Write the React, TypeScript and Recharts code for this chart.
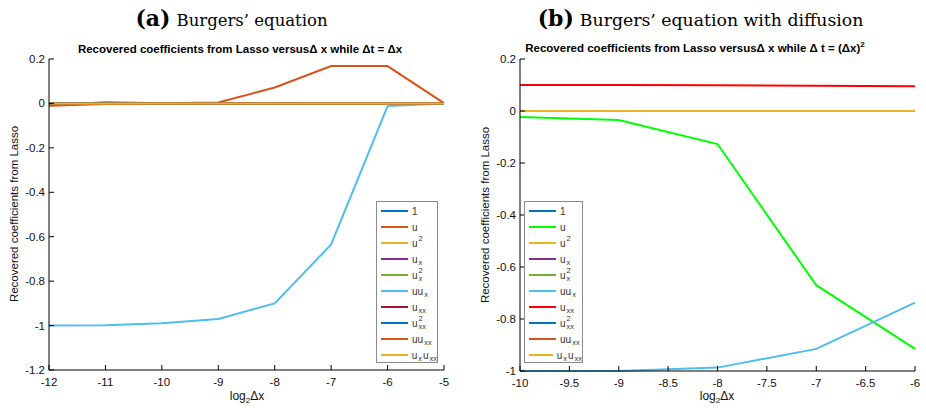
import React from 'react'
import { LineChart, Line, XAxis, YAxis, Legend } from 'recharts'

// x positions (log2 dx)
const X_A = [-12, -11, -10, -9, -8, -7, -6, -5]
const X_B = [-10, -9, -8, -7, -6]

// panel (a): Burgers' equation
const A_ONE = [0, 0, 0, 0, 0, 0, 0, 0]
const A_U = [-0.008, 0.005, 0.001, 0.004, 0.072, 0.168, 0.168, 0.001]
const A_U2 = [0, 0, 0, 0, 0, 0, 0, 0]
const A_UX = [0, 0, 0, 0, 0, 0, 0, 0]
const A_UX2 = [0, 0, 0, 0, 0, 0, 0, 0]
const A_UUX = [-1, -0.998, -0.99, -0.97, -0.9, -0.635, -0.012, 0]
const A_UXX = [0, 0, 0, 0, 0, 0, 0, 0]
const A_UXX2 = [0, 0, 0, 0, 0, 0, 0, 0]
const A_UUXX = [-0.01, -0.003, 0, 0, 0, 0, 0, 0]
const A_UXUXX = [0, 0, 0, 0, 0, 0, 0, 0]

// panel (b): Burgers' equation with diffusion
const B_ONE = [0, 0, 0, 0, 0]
const B_U = [-0.023, -0.035, -0.127, -0.67, -0.915]
const B_U2 = [0, 0, 0, 0, 0]
const B_UX = [0, 0, 0, 0, 0]
const B_UX2 = [0, 0, 0, 0, 0]
const B_UUX = [-1, -1, -0.987, -0.915, -0.737]
const B_UXX = [0.1, 0.1, 0.099, 0.097, 0.095]
const B_UXX2 = [0, 0, 0, 0, 0]
const B_UUXX = [0, 0, 0, 0, 0]
const B_UXUXX = [0, 0, 0, 0, 0]

const X_TICKS_A = [-12, -11, -10, -9, -8, -7, -6, -5]
const Y_TICKS_A = [-1.2, -1, -0.8, -0.6, -0.4, -0.2, 0, 0.2]
const X_TICKS_B = [-10, -9.5, -9, -8.5, -8, -7.5, -7, -6.5, -6]
const Y_TICKS_B = [-1, -0.8, -0.6, -0.4, -0.2, 0, 0.2]

const KEYS = ['one', 'u', 'u2', 'ux', 'ux2', 'uux', 'uxx', 'uxx2', 'uuxx', 'uxuxx']

// legend labels: [base, sub, sup]
const LABELS: [string, string, string][] = [
  ['1', '', ''],
  ['u', '', ''],
  ['u', '', '2'],
  ['u', 'x', ''],
  ['u', 'x', '2'],
  ['uu', 'x', ''],
  ['u', 'xx', ''],
  ['u', 'xx', '2'],
  ['uu', 'xx', ''],
  ['u', 'x', ''],
]

const COLORS_A = ['#0072BD', '#D95319', '#EDB120', '#7E2F8E', '#77AC30', '#4DBEEE', '#A2142F', '#0072BD', '#D95319', '#EDB120']
const COLORS_B = ['#0072BD', '#00FF00', '#EDB120', '#7E2F8E', '#77AC30', '#4DBEEE', '#FF0000', '#0072BD', '#D95319', '#EDB120']

const FONT = '"Liberation Sans", Arial, Helvetica, sans-serif'

function buildRows(xs: number[], series: number[][]) {
  return xs.map((x, i) => {
    const row: Record<string, number> = { x }
    KEYS.forEach((k, j) => (row[k] = series[j][i]))
    return row
  })
}

const dataA = buildRows(X_A, [A_ONE, A_U, A_U2, A_UX, A_UX2, A_UUX, A_UXX, A_UXX2, A_UUXX, A_UXUXX])
const dataB = buildRows(X_B, [B_ONE, B_U, B_U2, B_UX, B_UX2, B_UUX, B_UXX, B_UXX2, B_UUXX, B_UXUXX])

function BottomTick(props: any) {
  const { x, y, payload } = props
  return (
    <g>
      <line x1={x} y1={y} x2={x} y2={y - 5} stroke="#000" />
      <text x={x} y={y + 16} textAnchor="middle" fontSize={11.5} fill="#111" fontFamily={FONT}>
        {payload.value}
      </text>
    </g>
  )
}

function TopTick(props: any) {
  const { x, y } = props
  return <line x1={x} y1={y} x2={x} y2={y + 5} stroke="#000" />
}

function LeftTick(props: any) {
  const { x, y, payload } = props
  return (
    <g>
      <line x1={x} y1={y} x2={x + 5} y2={y} stroke="#000" />
      <text x={x - 4} y={y + 4} textAnchor="end" fontSize={11.5} fill="#111" fontFamily={FONT}>
        {payload.value}
      </text>
    </g>
  )
}

function RightTick(props: any) {
  const { x, y } = props
  return <line x1={x} y1={y} x2={x - 5} y2={y} stroke="#000" />
}

function Label({ base, sub, sup, last }: { base: string; sub: string; sup: string; last?: boolean }) {
  return (
    <span style={{ display: 'inline-flex', alignItems: 'center' }}>
      <span>{base}</span>
      {(sub || sup) && (
        <span style={{ display: 'inline-flex', flexDirection: 'column', fontSize: 7.5, lineHeight: '8px', marginLeft: 1 }}>
          <span style={{ height: 8 }}>{sup}</span>
          <span style={{ height: 8 }}>{sub}</span>
        </span>
      )}
      {last && (
        <>
          <span style={{ marginLeft: 1 }}>u</span>
          <span style={{ display: 'inline-flex', flexDirection: 'column', fontSize: 7.5, lineHeight: '8px', marginLeft: 1 }}>
            <span style={{ height: 8 }}></span>
            <span style={{ height: 8 }}>xx</span>
          </span>
        </>
      )}
    </span>
  )
}

function LegendBox({ colors, width }: { colors: string[]; width: number }) {
  return (
    <div
      style={{
        width,
        height: 162,
        boxSizing: 'border-box',
        border: '1px solid #8a8a8a',
        background: '#fff',
        fontFamily: FONT,
        fontSize: 10,
        color: '#333',
        paddingTop: 1,
      }}
    >
      {LABELS.map((l, i) => (
        <div key={i} style={{ display: 'flex', alignItems: 'center', height: 16 }}>
          <div style={{ width: 27, height: 2, background: colors[i], marginLeft: 4, marginRight: 4 }} />
          <Label base={l[0]} sub={l[1]} sup={l[2]} last={i === 9} />
        </div>
      ))}
    </div>
  )
}

function Panel({
  data,
  colors,
  xDomain,
  xTicks,
  yDomain,
  yTicks,
  margin,
  legendLeft,
  legendWidth,
}: {
  data: Record<string, number>[]
  colors: string[]
  xDomain: [number, number]
  xTicks: number[]
  yDomain: [number, number]
  yTicks: number[]
  margin: { top: number; right: number; bottom: number; left: number }
  legendLeft: number
  legendWidth: number
}) {
  return (
    <LineChart width={463} height={408} data={data} margin={margin}>
      <XAxis
        dataKey="x"
        type="number"
        domain={xDomain}
        ticks={xTicks}
        interval={0}
        height={20}
        tickSize={0}
        tickMargin={0}
        tickLine={false}
        axisLine={{ stroke: '#000' }}
        tick={BottomTick}
      />
      <XAxis
        xAxisId="top"
        orientation="top"
        type="number"
        domain={xDomain}
        ticks={xTicks}
        interval={0}
        height={0}
        tickSize={0}
        tickMargin={0}
        tickLine={false}
        axisLine={{ stroke: '#000' }}
        tick={TopTick}
      />
      <YAxis
        type="number"
        domain={yDomain}
        ticks={yTicks}
        interval={0}
        width={40}
        tickSize={0}
        tickMargin={0}
        tickLine={false}
        axisLine={{ stroke: '#000' }}
        tick={LeftTick}
      />
      <YAxis
        yAxisId="right"
        orientation="right"
        type="number"
        domain={yDomain}
        ticks={yTicks}
        interval={0}
        width={0}
        tickSize={0}
        tickMargin={0}
        tickLine={false}
        axisLine={{ stroke: '#000' }}
        tick={RightTick}
      />
      {KEYS.map((k, i) => (
        <Line
          key={k}
          dataKey={k}
          type="linear"
          stroke={colors[i]}
          strokeWidth={2}
          dot={false}
          isAnimationActive={false}
        />
      ))}
      <Legend
        layout="vertical"
        align="center"
        verticalAlign="middle"
        wrapperStyle={{ left: legendLeft, top: 201, width: legendWidth, height: 162 }}
        content={() => <LegendBox colors={colors} width={legendWidth} />}
      />
    </LineChart>
  )
}

const abs = (left: number, top: number): React.CSSProperties => ({ position: 'absolute', left, top })

export default function App() {
  return (
    <div style={{ position: 'absolute', left: 0, top: 0, width: 926, height: 408, background: '#fff', overflow: 'hidden' }}>
      <div style={abs(0, 0)}>
        <Panel
          data={dataA}
          colors={COLORS_A}
          xDomain={[-12, -5]}
          xTicks={X_TICKS_A}
          yDomain={[-1.2, 0.2]}
          yTicks={Y_TICKS_A}
          margin={{ top: 59, right: 19, bottom: 18, left: 9 }}
          legendLeft={376}
          legendWidth={62}
        />
      </div>
      <div style={abs(463, 0)}>
        <Panel
          data={dataB}
          colors={COLORS_B}
          xDomain={[-10, -6]}
          xTicks={X_TICKS_B}
          yDomain={[-1, 0.2]}
          yTicks={Y_TICKS_B}
          margin={{ top: 59, right: 11, bottom: 17, left: 17 }}
          legendLeft={61}
          legendWidth={59}
        />
      </div>

      {/* panel headings */}
      <div style={{ ...abs(0, 4), width: 463, textAlign: 'center', whiteSpace: 'nowrap', lineHeight: '28px' }}>
        <span style={{ fontFamily: '"DejaVu Serif", serif', fontWeight: 'bold', fontSize: 22 }}>(a)</span>
        <span style={{ fontFamily: '"DejaVu Serif", serif', fontSize: 16.5, marginLeft: 6 }}>Burgers’ equation</span>
      </div>
      <div style={{ ...abs(463, 4), width: 475, textAlign: 'center', whiteSpace: 'nowrap', lineHeight: '28px' }}>
        <span style={{ fontFamily: '"DejaVu Serif", serif', fontWeight: 'bold', fontSize: 22 }}>(b)</span>
        <span style={{ fontFamily: '"DejaVu Serif", serif', fontSize: 17.3, marginLeft: 6 }}>Burgers’ equation with diffusion</span>
      </div>

      {/* axes titles */}
      <div style={{ ...abs(0, 43), width: 480, textAlign: 'center', fontFamily: FONT, fontWeight: 'bold', fontSize: 11.5, whiteSpace: 'nowrap' }}>
        Recovered coefficients from Lasso versusΔ x while Δt = Δx
      </div>
      <div style={{ ...abs(463, 40), width: 464, textAlign: 'center', fontFamily: FONT, fontWeight: 'bold', fontSize: 11.5, whiteSpace: 'nowrap' }}>
        Recovered coefficients from Lasso versusΔ x while Δ t = (Δx)<sup style={{ fontSize: 8 }}>2</sup>
      </div>

      {/* x labels */}
      {[247, 717].map((cx, i) => (
        <div key={i} style={{ ...abs(cx - 40, 389), width: 80, textAlign: 'center', fontFamily: FONT, fontSize: 12, color: '#111', lineHeight: '14px' }}>
          log<sub style={{ fontSize: 8 }}>2</sub>Δx
        </div>
      ))}

      {/* y labels */}
      {[
        [16, 214],
        [487, 215],
      ].map(([cx, cy], i) => (
        <div
          key={i}
          style={{
            ...abs(cx - 100, cy - 8),
            width: 200,
            height: 16,
            textAlign: 'center',
            fontFamily: FONT,
            fontSize: 11.5,
            color: '#111',
            transform: 'rotate(-90deg)',
            whiteSpace: 'nowrap',
          }}
        >
          Recovered coefficients from Lasso
        </div>
      ))}
    </div>
  )
}
